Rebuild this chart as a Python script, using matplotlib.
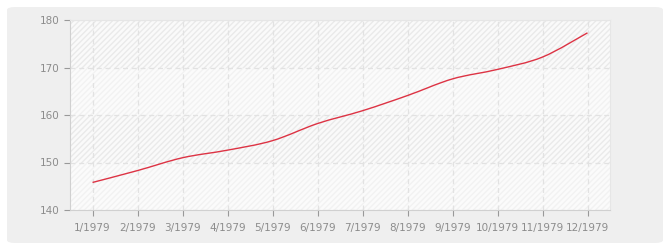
import matplotlib
matplotlib.use("Agg")
import matplotlib.pyplot as plt
from matplotlib.patches import FancyBboxPatch, PathPatch
from matplotlib.path import Path

months = ["1/1979", "2/1979", "3/1979", "4/1979", "5/1979", "6/1979",
          "7/1979", "8/1979", "9/1979", "10/1979", "11/1979", "12/1979"]
values = [145.8, 148.3, 151.0, 152.6, 154.6, 158.2,
          160.9, 164.1, 167.6, 169.6, 172.2, 177.3]
y_ticks = [140, 150, 160, 170, 180]

fig = plt.figure(figsize=(6.7, 2.5), dpi=100)
fig.patch.set_facecolor("white")
fig.patches.append(FancyBboxPatch((7 / 670, 7 / 250), 656 / 670, 236 / 250,
                                  boxstyle="round,pad=0,rounding_size=0.012",
                                  transform=fig.transFigure, facecolor="#efefef",
                                  edgecolor="none", zorder=-10))

ax = fig.add_axes([70 / 670, 40 / 250, 540 / 670, 190 / 250])
ax.set_facecolor("#fdfdfd")
ax.set_xlim(-0.5, len(months) - 0.5)
ax.set_ylim(140, 180)

# alternating bands
for i in range(len(y_ticks) - 1):
    lo, hi = y_ticks[i], y_ticks[i + 1]
    if i % 2 == 1:
        ax.axhspan(lo, hi, facecolor="#fafafa", edgecolor="#eaeaea",
                   hatch="//////", linewidth=0, zorder=0)
    else:
        ax.axhspan(lo, hi, facecolor="#fbfbfb", edgecolor="#f2f2f2",
                   hatch="//////", linewidth=0, zorder=0)

ax.grid(True, color="#e2e2e2", linestyle=(0, (4, 3)), linewidth=0.9, zorder=1)

# smooth curve through the points (Catmull-Rom as cubic Bezier)
xs = list(range(len(values)))
verts = [(xs[0], values[0])]
codes = [Path.MOVETO]
for i in range(len(values) - 1):
    p0 = (xs[max(i - 1, 0)], values[max(i - 1, 0)])
    p1 = (xs[i], values[i])
    p2 = (xs[i + 1], values[i + 1])
    p3 = (xs[min(i + 2, len(values) - 1)], values[min(i + 2, len(values) - 1)])
    c1 = (p1[0] + (p2[0] - p0[0]) / 6, p1[1] + (p2[1] - p0[1]) / 6)
    c2 = (p2[0] - (p3[0] - p1[0]) / 6, p2[1] - (p3[1] - p1[1]) / 6)
    verts += [c1, c2, p2]
    codes += [Path.CURVE4] * 3
ax.add_patch(PathPatch(Path(verts, codes), facecolor="none",
                       edgecolor="#dd3344", linewidth=1.0, zorder=3))

ax.set_xticks(xs)
ax.set_xticklabels(months)
ax.set_yticks(y_ticks)
ax.tick_params(colors="#999999", labelcolor="#8c8c8c", labelsize=7.5,
               length=4, width=0.8, direction="out")
ax.tick_params(axis="x", pad=5)
for side in ["top", "right"]:
    ax.spines[side].set_color("#e6e6e6")
for side in ["left", "bottom"]:
    ax.spines[side].set_color("#d0d0d0")

fig.savefig("out.png", dpi=100, facecolor=fig.get_facecolor())
